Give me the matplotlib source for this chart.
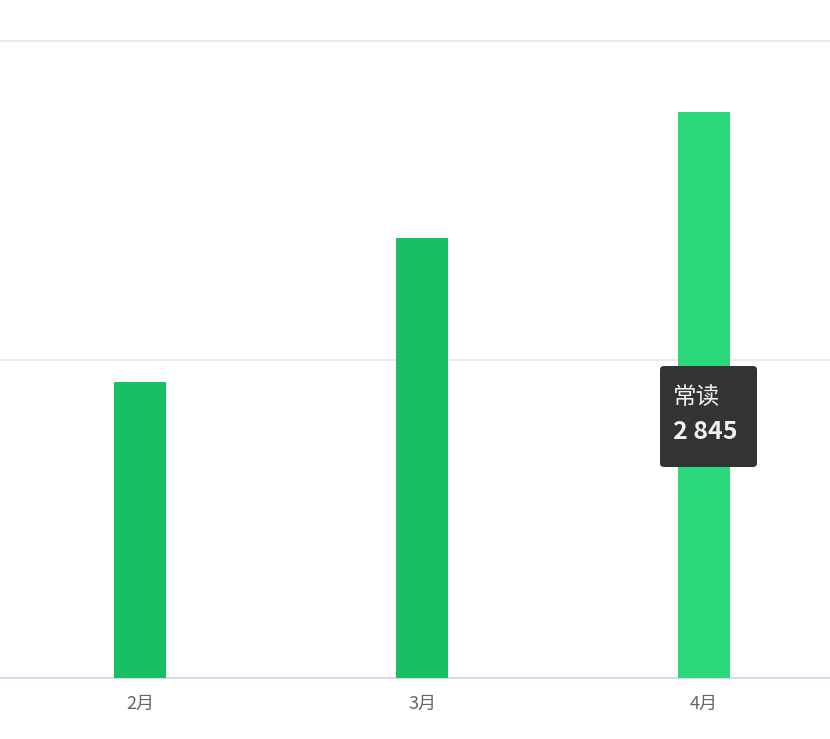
import matplotlib
matplotlib.use('Agg')
import matplotlib.pyplot as plt
from matplotlib.patches import FancyBboxPatch

plt.rcParams['font.family'] = ['Noto Sans CJK SC', 'DejaVu Sans']

months = ['2月', '3月', '4月']
positions = [1, 2, 3]
values = [1488, 2209, 2845]
bar_colors = ['#19bf63', '#19bf63', '#2bd97c']
grid_ticks = [0, 1600, 3200]

tip_label = '常读'
tip_value = '2 845'

W, H = 830, 739
fig = plt.figure(figsize=(W / 100, H / 100), dpi=100)
base = 678
ax = fig.add_axes([0, (H - base) / H, 1, base / H])

ax.bar(positions, values, width=0.184, color=bar_colors, zorder=3)

ax.set_yticks(grid_ticks)
ax.set_yticklabels([])
ax.set_xticks(positions)
ax.set_xticklabels(months)
ax.set_xlim(1 - 140 / 282, 1 + 690 / 282)
ax.set_ylim(0, 3200 * base / 637)
ax.tick_params(axis='x', length=0, pad=12, labelsize=13, labelcolor='#666666')
ax.tick_params(axis='y', length=0)
ax.grid(axis='y', color='#e6e6e6', linewidth=1.2, zorder=0)
for s in ['top', 'right', 'left']:
	ax.spines[s].set_visible(False)
ax.spines['bottom'].set_color('#ccd6eb')
ax.spines['bottom'].set_linewidth(1.2)

# tooltip box (pixel coords from top-left)
x0, x1, y0, y1 = 660, 757, 366, 467
box = FancyBboxPatch((x0 / W, 1 - y1 / H), (x1 - x0) / W, (y1 - y0) / H,
                     boxstyle='round,pad=0,rounding_size=0.005',
                     transform=fig.transFigure, facecolor='#333333',
                     edgecolor='none', zorder=10)
fig.patches.append(box)
fig.text(673 / W, 1 - 397 / H, tip_label, color='#f0f0f0', fontsize=17,
         va='center', ha='left', zorder=11)
fig.text(673 / W, 1 - 432 / H, tip_value, color='#f0f0f0', fontsize=18,
         fontweight='bold', va='center', ha='left', zorder=11)

plt.savefig('out.png', dpi=100)
